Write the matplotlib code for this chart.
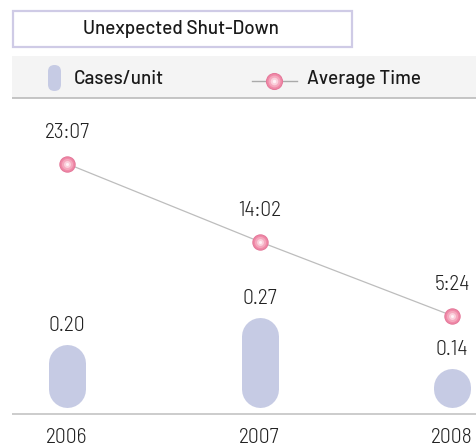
import matplotlib
matplotlib.use("Agg")
import matplotlib.pyplot as plt
from matplotlib.patches import Rectangle, FancyBboxPatch

years = ["2006", "2007", "2008"]
cases = [0.20, 0.27, 0.14]
case_labels = ["0.20", "0.27", "0.14"]
avg_time_labels = ["23:07", "14:02", "5:24"]
avg_time_min = [23 * 60 + 7, 14 * 60 + 2, 5 * 60 + 24]

NUM_FONT = ["Barlow Semi Condensed", "DejaVu Sans"]
TXT_FONT = ["Barlow", "DejaVu Sans"]

W, H = 476, 447
fig = plt.figure(figsize=(W / 100, H / 100), dpi=100)

BAR_C = "#c6cbe4"
PINK_E = "#e5789a"
LINE_C = "#bdbdbd"
TXT_C = "#1a1a1a"
NUM_C = "#222222"
NUM_FS = 15.5
TXT_FS = 13.6

# decoration overlay in pixel coordinates
deco = fig.add_axes([0, 0, 1, 1], zorder=0)
deco.set_xlim(0, W)
deco.set_ylim(H, 0)
deco.axis("off")
deco.add_patch(Rectangle((12.5, 10.5), 339, 36, facecolor="white", edgecolor="#cfcbe6", lw=1.6))
deco.text(181, 28.5, "Unexpected Shut-Down", ha="center", va="center",
          fontsize=TXT_FS, family=TXT_FONT, weight=500, color=TXT_C)
deco.add_patch(Rectangle((12, 56), W - 12, 42, facecolor="#f4f4f4", edgecolor="none"))
deco.plot([12, W], [98, 98], color="#bbbbbb", lw=1.2, solid_capstyle="butt")
deco.add_patch(FancyBboxPatch((48, 65), 13, 26, boxstyle="round,pad=0,rounding_size=6.5",
                              facecolor=BAR_C, edgecolor="none", mutation_aspect=1))
deco.text(74, 78.5, "Cases/unit", ha="left", va="center", fontsize=TXT_FS,
          family=TXT_FONT, weight=500, color=TXT_C)
deco.plot([252, 297], [81, 81], color="#aaaaaa", lw=1.0)
for ms, fc in [(11.5, "#f08aa8"), (8.5, "#f5a8be"), (5.5, "#fbd0dc"), (2.5, "#fff2f6")]:
    deco.plot([274], [81], "o", ms=ms, mfc=fc, mec=PINK_E if ms > 11 else fc, mew=0.8 if ms > 11 else 0)
deco.text(307, 78.5, "Average Time", ha="left", va="center", fontsize=TXT_FS,
          family=TXT_FONT, weight=500, color=TXT_C)
deco.plot([12, W], [414, 414], color="#c8c8c8", lw=1.3, solid_capstyle="butt")

# main data axes
top_px, base_px = 100, 414
ax = fig.add_axes([12 / W, (H - base_px) / H, (W - 12) / W, (base_px - top_px) / H], zorder=1)
ax.patch.set_alpha(0)
px_per_unit = 391.3
y0 = 0.0227
ax.set_ylim(y0, y0 + (base_px - top_px) / px_per_unit)
unit_px = 192.5
xs = list(range(len(years)))
ax.set_xlim(-(67 - 12) / unit_px, (W - 67) / unit_px)
for s in ax.spines.values():
    s.set_visible(False)
ax.set_yticks([])
ax.set_xticks(xs)
ax.set_xticklabels(years, fontsize=NUM_FS, family=NUM_FONT, weight=300, color=NUM_C)
ax.tick_params(axis="x", length=0, pad=10)

r = 18.5 / px_per_unit
bottom = y0 + 7 / px_per_unit
for x, v, lab in zip(xs, cases, case_labels):
    yb = bottom + r
    yt = max(v - r, yb + 1e-4)
    ax.plot([x, x], [yb, yt], color=BAR_C, lw=37 * 0.72, solid_capstyle="round")
    ax.annotate(lab, (x, v), xytext=(0, 19 * 0.72), textcoords="offset points",
                ha="center", va="center", fontsize=NUM_FS, family=NUM_FONT, weight=300, color=NUM_C)

# time axis
ax2 = ax.twinx()
ax2.patch.set_alpha(0)
slope, icpt = 0.14293, 52.04
ax2.set_ylim(-icpt / slope, (base_px - top_px - icpt) / slope)
ax2.set_yticks([])
for s in ax2.spines.values():
    s.set_visible(False)
ax2.plot(xs, avg_time_min, color=LINE_C, lw=0.9, zorder=2)
for ms, fc in [(11.0, "#f08aa8"), (8.0, "#f5a8be"), (5.0, "#fbd0dc"), (2.2, "#fff2f6")]:
    ax2.plot(xs, avg_time_min, "o", ms=ms, mfc=fc, mec=PINK_E if ms > 10.5 else fc,
             mew=0.8 if ms > 10.5 else 0, zorder=3, ls="none")
for x, t, lab in zip(xs, avg_time_min, avg_time_labels):
    ax2.annotate(lab, (x, t), xytext=(0, 31 * 0.72), textcoords="offset points",
                 ha="center", va="center", fontsize=NUM_FS, family=NUM_FONT, weight=300, color=NUM_C)

fig.savefig("out.png", dpi=100)
